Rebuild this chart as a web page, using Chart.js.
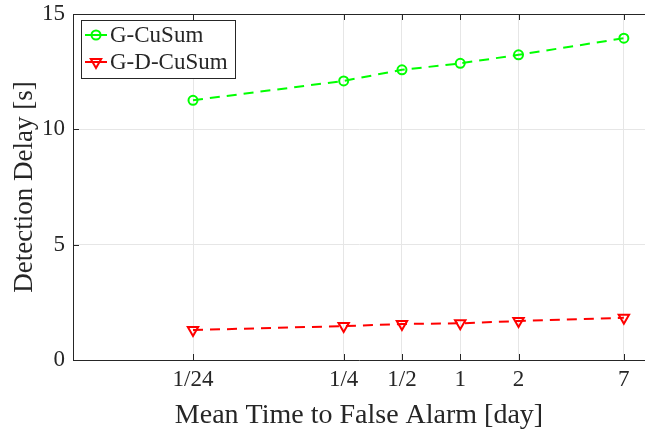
<!DOCTYPE html>
<html>
<head>
<meta charset="utf-8">
<script src="https://cdn.jsdelivr.net/npm/chart.js@4/dist/chart.umd.min.js"></script>
<style>
  html, body { margin: 0; padding: 0; background: #fff; overflow: hidden; }
  #wrap { width: 645px; height: 433px; position: relative; }
</style>
</head>
<body>
<div id="wrap"><canvas id="delayChart"></canvas></div>
<script>
// Tempo médio até falso alarme (dias) e atraso de deteção (s)
const xValues = [1 / 24, 1 / 4, 1 / 2, 1, 2, 7];
const xTickLabels = ['1/24', '1/4', '1/2', '1', '2', '7'];
const gCusum = [11.26, 12.1, 12.58, 12.86, 13.23, 13.95];
const gdCusum = [1.30, 1.47, 1.56, 1.59, 1.69, 1.83];
const yTicks = [0, 5, 10, 15];

const FONT = "'Liberation Serif', 'Times New Roman', serif";
const AXIS_COLOR = '#262626';

const toPoints = ys => ys.map((y, i) => ({ x: xValues[i], y }));

// Caixa, marcas interiores e legenda ao estilo MATLAB
const boxPlugin = {
  id: 'boxPlugin',
  afterDraw(chart) {
    const { ctx, chartArea: a, scales } = chart;
    ctx.save();
    ctx.strokeStyle = AXIS_COLOR;
    ctx.lineWidth = 1;

    // linha superior
    ctx.beginPath();
    ctx.moveTo(a.left, a.top + 0.5);
    ctx.lineTo(a.right, a.top + 0.5);
    ctx.stroke();

    // marcas dos eixos (para dentro)
    const tl = 6;
    ctx.beginPath();
    xValues.forEach(v => {
      const px = Math.round(scales.x.getPixelForValue(v)) + 0.5;
      ctx.moveTo(px, a.bottom); ctx.lineTo(px, a.bottom - tl);
      ctx.moveTo(px, a.top); ctx.lineTo(px, a.top + tl);
    });
    yTicks.forEach(v => {
      const py = Math.round(scales.y.getPixelForValue(v)) + 0.5;
      ctx.moveTo(a.left, py); ctx.lineTo(a.left + tl, py);
    });
    ctx.stroke();

    // legenda
    const lx = 81, ly = 20, lw = 154, lh = 58;
    ctx.fillStyle = '#fff';
    ctx.fillRect(lx, ly, lw, lh);
    ctx.strokeRect(lx + 0.5, ly + 0.5, lw, lh);

    chart.data.datasets.forEach((ds, i) => {
      const cy = 35 + i * 27;
      ctx.strokeStyle = ds.borderColor;
      ctx.lineWidth = 2;
      ctx.setLineDash([]);
      ctx.beginPath();
      ctx.moveTo(85, cy); ctx.lineTo(107, cy);
      ctx.stroke();
      ctx.fillStyle = 'rgba(0,0,0,0)';
      Chart.helpers.drawPoint(ctx, {
        pointStyle: ds.pointStyle,
        radius: ds.pointRadius,
        rotation: ds.pointRotation || 0,
        borderWidth: 2
      }, 96, cy);
      ctx.fillStyle = AXIS_COLOR;
      ctx.font = '23px ' + FONT;
      ctx.textBaseline = 'middle';
      ctx.textAlign = 'left';
      ctx.fillText(ds.label, 110, cy + 1);
    });
    ctx.restore();
  }
};

new Chart(document.getElementById('delayChart'), {
  type: 'line',
  data: {
    datasets: [
      {
        label: 'G-CuSum',
        data: toPoints(gCusum),
        borderColor: '#00ff00',
        borderWidth: 2,
        borderDash: [10, 7],
        pointStyle: 'circle',
        pointRadius: 4.5,
        pointBorderWidth: 2,
        pointBackgroundColor: 'rgba(0,0,0,0)',
        pointBorderColor: '#00ff00',
        tension: 0
      },
      {
        label: 'G-D-CuSum',
        data: toPoints(gdCusum),
        borderColor: '#ff0000',
        borderWidth: 2,
        borderDash: [10, 7],
        pointStyle: 'triangle',
        pointRotation: 180,
        pointRadius: 6,
        pointBorderWidth: 2,
        pointBackgroundColor: 'rgba(0,0,0,0)',
        pointBorderColor: '#ff0000',
        tension: 0
      }
    ]
  },
  options: {
    responsive: true,
    maintainAspectRatio: false,
    animation: false,
    layout: { autoPadding: false, padding: { top: 14, right: 0, left: 0, bottom: 0 } },
    plugins: {
      legend: { display: false },
      tooltip: { enabled: false }
    },
    scales: {
      x: {
        type: 'logarithmic',
        min: 0.01,
        max: 9,
        afterBuildTicks: scale => {
          scale.ticks = xValues.map(v => ({ value: v }));
        },
        afterFit: scale => {
          scale.height = 73;
          scale.paddingLeft = 0;
          scale.paddingRight = 0;
        },
        ticks: {
          autoSkip: false,
          maxRotation: 0,
          padding: 6,
          color: AXIS_COLOR,
          font: { family: FONT, size: 23 },
          callback: (v, i) => xTickLabels[i]
        },
        grid: { color: '#e6e6e6', drawTicks: false },
        border: { color: AXIS_COLOR, width: 1 },
        title: {
          display: true,
          text: 'Mean Time to False Alarm [day]',
          color: AXIS_COLOR,
          font: { family: FONT, size: 28 },
          padding: { top: 0, bottom: 1 }
        }
      },
      y: {
        min: 0,
        max: 15,
        afterBuildTicks: scale => {
          scale.ticks = yTicks.map(v => ({ value: v }));
        },
        afterFit: scale => {
          scale.width = 73;
          scale.paddingTop = 0;
          scale.paddingBottom = 0;
        },
        ticks: {
          padding: 8,
          color: AXIS_COLOR,
          font: { family: FONT, size: 23 }
        },
        grid: { color: '#e6e6e6', drawTicks: false },
        border: { color: AXIS_COLOR, width: 1 },
        title: {
          display: true,
          text: 'Detection Delay [s]',
          color: AXIS_COLOR,
          font: { family: FONT, size: 27 },
          padding: { top: 9, bottom: 0 }
        }
      }
    }
  },
  plugins: [boxPlugin]
});
</script>
</body>
</html>
